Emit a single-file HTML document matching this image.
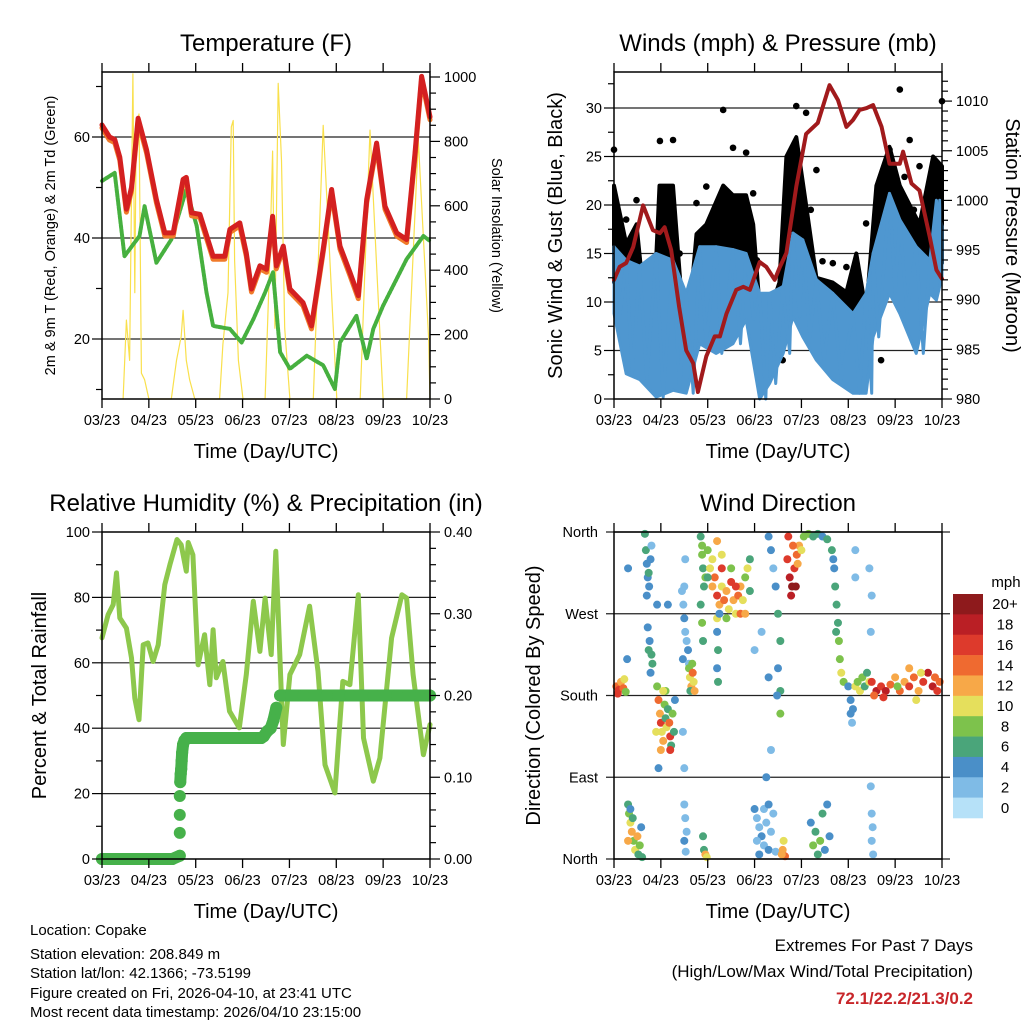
<!DOCTYPE html>
<html><head><meta charset="utf-8"><style>
html,body{margin:0;padding:0;background:#fff}
svg{display:block;font-family:"Liberation Sans",Arial,sans-serif}
</style></head><body>
<svg id="s" xmlns="http://www.w3.org/2000/svg" width="1024" height="1024" viewBox="0 0 1024 1024">
<rect x="0" y="0" width="1024" height="1024" fill="#fff"/>
<g id="g1"></g>
<g id="g2"></g>
<g id="g3"></g>
<g id="g4"></g>
<g font-size="15" fill="#000">
<text x="30" y="935">Location: Copake</text>
<text x="30" y="959">Station elevation: 208.849 m</text>
<text x="30" y="978">Station lat/lon: 42.1366; -73.5199</text>
<text x="30" y="998">Figure created on Fri, 2026-04-10, at 23:41 UTC</text>
<text x="30" y="1017">Most recent data timestamp: 2026/04/10 23:15:00</text>
</g>
<g text-anchor="end" font-size="17">
<text x="973" y="951">Extremes For Past 7 Days</text>
<text x="973" y="977">(High/Low/Max Wind/Total Precipitation)</text>
<text x="973" y="1004" fill="#c8262a" font-weight="bold">72.1/22.2/21.3/0.2</text>
</g>
</svg>
<script>
// ---------- data ----------
const dayLabels = ["03/23","04/23","05/23","06/23","07/23","08/23","09/23","10/23"];
const tempT = [0,0.16,0.27,0.38,0.52,0.63,0.77,0.95,1.16,1.34,1.52,1.73,1.8,1.91,2.09,2.37,2.62,2.73,2.94,3.08,3.19,3.37,3.51,3.64,3.72,3.87,4.01,4.29,4.47,4.72,4.9,5.08,5.29,5.47,5.65,5.86,6.04,6.29,6.5,6.68,6.82,7];
const tempV = [62.4,60,59.5,56,45.7,50,63.7,57.5,47.6,41,41,51.6,52,45,44.7,36.4,36.4,41.7,43,37,29.9,34.5,33.8,44.3,34.5,38.4,29.9,27.2,22.6,37.8,49.6,38.4,33.2,28.6,47.6,58.8,46.3,41,39.7,56.8,72,64];
const tdT = [0,0.27,0.48,0.8,0.91,1.16,1.48,1.8,2.02,2.23,2.37,2.73,2.98,3.23,3.48,3.65,3.8,4.01,4.37,4.72,4.97,5.08,5.43,5.65,5.79,6.0,6.5,6.86,7];
const tdV = [51.3,52.9,36.4,40.4,46.3,35.1,39.7,49.6,42.4,29.2,22.6,22,19.3,23.9,29.2,33.2,17.4,14.1,16.7,14.8,10.1,19.3,24.6,16.1,22,26.6,35.8,40.4,39.4];
const solT = [0.45,0.52,0.59,0.66,0.7,0.73,0.79,0.84,0.91,1.0,1.48,1.59,1.69,1.73,1.8,1.87,1.98,2.51,2.58,2.69,2.76,2.8,2.83,2.91,3.01,3.48,3.58,3.64,3.69,3.76,3.83,3.9,4.01,4.51,4.72,5.01,5.51,5.72,6.0,6.5,6.75,6.97,7];
const solV = [0,245,120,1010,330,840,885,80,60,0,0,120,195,275,120,60,0,0,170,330,845,865,430,120,0,0,430,770,220,980,740,220,0,0,850,0,0,835,0,0,805,190,0];
const presT = [0,0.12,0.26,0.41,0.62,0.83,0.98,1.08,1.22,1.39,1.54,1.69,1.79,1.97,2.15,2.26,2.4,2.61,2.76,2.9,3.11,3.25,3.43,3.54,3.68,3.89,4.1,4.35,4.6,4.78,4.96,5.1,5.24,5.39,5.53,5.71,5.88,6.1,6.17,6.35,6.52,6.74,6.88,7];
const presV = [992,993.3,993.7,995.3,999.5,997,996.7,997.3,995,989.3,984.9,983.6,980.7,984.3,986.3,986.3,988.6,991,991.3,991,993.8,993.3,992,993.3,994.7,1001.4,1006.7,1007.8,1011.6,1010.1,1007.4,1008.1,1009.1,1009.3,1009.6,1007.4,1003.7,1003.7,1004.9,1001.7,1001,996.3,993,992.1];
const windEnvT = [0,0.26,0.55,0.9,1.26,1.54,1.83,2.18,2.54,2.82,3.11,3.32,3.61,3.82,4.03,4.32,4.67,5.1,5.38,5.53,5.88,6.1,6.45,6.74,6.88,7];
const windHi = [15.7,14.3,13.7,15,14.3,10.9,15.7,15.7,15.4,15,10.9,10.9,11.6,17.1,16.4,12.3,10.9,8.8,10.9,15,21.2,18.5,15.7,14.3,20.5,17.8];
const windLo = [8.8,2.6,2,0.2,0.9,0.6,5.7,4.7,5.7,8.2,0,1.6,4.7,8.5,6.4,4,2,0.6,0.6,6.4,10.9,8.8,4.7,10.9,10.2,12.6];
const windT = [0,0.13,0.26,0.39,0.55,0.7,0.9,1.05,1.26,1.4,1.54,1.69,1.83,1.97,2.18,2.3,2.54,2.7,2.82,2.98,3.11,3.24,3.32,3.45,3.6,3.75,3.82,3.96,4.03,4.18,4.32,4.48,4.67,4.85,5.1,5.24,5.38,5.5,5.53,5.65,5.88,6.0,6.1,6.25,6.45,6.6,6.74,6.88,6.95,7];
const windV = [15.7,8.8,14.3,2.6,13.7,2,15,0.2,14.3,0.9,10.9,0.6,15.7,5.7,15.7,4.7,15.4,5.7,15,8.2,10.9,0,10.9,1.6,11.6,4.7,17.1,8.5,16.4,6.4,12.3,4,10.9,2,8.8,0.6,10.9,0.6,15,6.4,21.2,10.9,18.5,8.8,15.7,4.7,14.3,10.9,20.5,12.6];
const gustEnvT = [0,0.26,0.48,0.69,0.83,0.97,1.26,1.4,1.54,1.76,1.97,2.33,2.54,2.82,2.97,3.18,3.32,3.53,3.68,3.89,4.1,4.32,4.67,4.96,5.17,5.38,5.6,5.88,6.1,6.31,6.52,6.81,7];
const gustHi = [22,16,18,8,7,22,22,13,5,17,18,22,21,21,18,5,9,12,25,27,20,12.5,12,11,15,9,22,26,22,20,18,25,24];
const gustLo = [12,10,10,6,5,12,11,8,4,11,12,13,12,12,10,3,5,8,12,13,12,9,8,6,7,5,12,17,15,13,12,12,14];
const gustT = [0,0.1,0.26,0.35,0.48,0.6,0.7,0.8,0.98,1.05,1.26,1.3,1.4,1.54,1.76,1.8,1.97,2.05,2.33,2.4,2.54,2.62,2.82,2.9,2.97,3.05,3.18,3.3,3.54,3.6,3.68,3.7,3.89,3.95,4.1,4.2,4.32,4.45,4.67,4.75,4.96,5.05,5.17,5.3,5.38,5.45,5.6,5.7,5.88,5.95,6.1,6.2,6.31,6.4,6.52,6.6,6.81,6.9,7];
const gustV = [25.7,12.6,18.5,10.9,20.5,12.6,9.2,6.4,26.6,17.8,26.7,15,15,5.7,20.2,12.6,21.9,14.3,29.8,20.5,25.9,15.7,25.4,17.8,21.2,14.3,5.7,4,10.9,4,14.2,7,30.2,21.2,29.5,19.5,23.6,14.2,14,7.5,13.6,8.2,12.6,7.5,18.1,11,10.9,4,25.7,17.8,31.9,22.9,26.7,19.5,24,16.2,21.2,15,30.7];
const rhT = [0,0.13,0.24,0.31,0.38,0.52,0.63,0.7,0.79,0.88,0.98,1.09,1.2,1.34,1.45,1.6,1.69,1.8,1.84,1.94,2.05,2.19,2.3,2.37,2.44,2.58,2.72,2.93,3.08,3.23,3.37,3.48,3.61,3.71,3.87,4.01,4.22,4.43,4.61,4.76,4.97,5.14,5.29,5.47,5.58,5.79,5.93,6.18,6.4,6.5,6.64,6.86,7];
const rhV = [67.6,74.7,77.8,87.5,73.7,70.6,61.5,49.2,42.6,65.5,66.1,60.4,65.5,83.9,90,97.7,96.1,88,96.8,93,59.4,68.6,53.3,70.1,55.4,60.4,45.2,40.1,56.4,78.8,63.5,79.8,62.5,94.1,35,56.4,62.5,77.3,57.4,28.8,20.2,54.3,53.3,80.8,37,23.8,30.9,67.6,80.8,79.8,56.4,31.9,41.1];
const prT = [0,0.5,1.0,1.5,1.66,1.66,1.66,1.66,1.67,1.68,1.69,1.7,1.71,1.73,1.76,1.8,2.2,2.6,3.0,3.4,3.45,3.52,3.6,3.66,3.72,3.8,4.3,4.8,5.3,5.8,6.3,6.8,7];
const prV = [0,0,0,0,0.004,0.032,0.054,0.077,0.094,0.104,0.11,0.12,0.13,0.14,0.145,0.148,0.148,0.148,0.148,0.148,0.15,0.156,0.16,0.17,0.185,0.2,0.2,0.2,0.2,0.2,0.2,0.2,0.2];
const dirT = [0.05,0.1,0.15,0.2,0.22,0.08,0.25, 0.3,0.32,0.35,0.38,0.4,0.42,0.45,0.5,0.52,0.55,0.58,0.6,0.3,0.35, 0.66,0.68,0.7,0.72,0.75,0.78,0.8,0.7,0.74, 0.72,0.76,0.8,0.82,0.78,0.74, 0.3,0.28,1.15,0.92, 0.92,0.95,0.98,1.0,1.02,1.05,1.08,1.1,1.12,1.15,1.18,1.2,1.22,1.25,1.28,1.3,1.0,1.1,1.2,0.95,0.9,1.05, 1.45,1.48,1.5,1.52,1.55,1.58,1.5,1.47,1.6,1.52, 1.6,1.62,1.65,1.68,1.7,1.63,1.67,1.72, 1.5,1.52,1.55,1.5,1.53,1.47,1.5, 1.85,1.88,1.9,1.92,1.85,1.88,1.9,1.88,1.95, 2.0,2.05,2.1,2.15,2.2,2.25,2.3,2.35,2.4,2.45,2.5,2.55,2.6,2.65,2.7,2.75,2.8,2.85,2.9,2.1,2.2,2.3,2.5,2.7,2.6,2.4,2.2,2.0,2.9,2.8, 1.92,1.95,1.98,1.9, 2.2,2.22,2.2,2.22,2.25, 2.3,3.15,3.0, 3.0,3.05,3.1,3.15,3.2,3.25,3.3,3.35,3.4,3.05,3.2,3.1,3.3,3.45,3.25,3.35,3.3, 3.3,3.35,3.4,3.45,3.5,3.55,3.5,3.55,3.48,3.55, 3.7,3.75,3.8,3.85,3.9,3.95,4.0,3.78,3.82,3.88,3.92,3.72,4.05, 3.6,3.62,3.65,3.58, 4.15,4.25,4.35,4.45,4.55, 4.2,4.3,4.4,4.5,4.35,4.6,4.45,4.25,4.55, 4.65,4.7,4.72,4.75,4.78,4.8,4.82,4.85,4.9,4.68,4.74, 5.0,5.05,5.05,5.08,5.1, 5.15,5.2,5.25,5.3,5.35,5.4,5.45, 5.5,5.6,5.7,5.8,5.9,6.0,6.1,6.2,6.3,6.4,6.5,6.6,6.7,6.8,6.9,6.95,5.55,5.75,6.05,6.55,6.45,6.3,6.85, 5.5,5.52,5.5,5.53,5.48, 5.15,5.15,5.45,5.5,5.48];
const dirD = [190,186,195,188,198,182,184, 60,50,40,30,45,20,10,25,5,15,35,2,20,55, 358,340,325,310,300,330,345,290,315, 255,240,225,215,205,230, 320,220,280,280, 190,175,160,150,140,130,170,155,145,165,150,135,125,160,140,175,120,185,120,100,140,185, 295,280,265,250,240,230,300,220,215,330, 210,200,190,205,195,185,215,185, 60,45,30,20,8,140,100, 355,335,320,300,280,260,240,345,310, 340,320,300,310,290,280,300,285,295,275,305,285,270,290,300,285,310,320,330,330,350,320,320,270,300,265,265,310,295,270, 10,5,2,25, 250,230,210,195,270, 335,250,230, 55,45,35,25,15,40,10,30,50,20,55,5,60,8,90,120,200, 355,340,320,300,270,240,210,185,180,160, 330,310,300,320,335,345,340,290,345,300,325,355,355, 10,20,3,5, 358,355,358,355,352, 40,30,20,10,5,25,50,15,60, 340,320,300,280,260,240,220,205,195,330,250, 190,175,160,150,165, 190,195,185,200,190,205,195, 195,185,190,185,192,200,185,195,190,200,185,195,205,190,185,195,180,178,190,205,175,210,200, 50,35,20,5,80, 340,310,320,290,250];
const dirS = [14,16,12,14,10,16,8, 6,8,10,12,6,8,10,12,6,8,4,6,12,4, 6,6,4,4,4,4,2,4,6, 4,4,6,6,4,6, 4,4,4,4, 8,14,12,16,10,12,8,6,10,6,14,16,6,8,6,4,12,8,16,4,10,10, 2,2,4,2,2,4,2,4,2,2, 8,10,12,14,10,6,8,12, 2,2,2,4,2,2,2, 6,8,6,6,6,8,6,8,8, 8,10,12,14,16,12,10,14,12,10,16,12,10,14,12,10,8,10,6,10,12,16,8,14,16,8,10,6,6,12, 6,12,10,6, 4,6,4,6,4, 10,2,2, 4,2,2,4,2,2,4,2,2,2,2,4,4,2,4,2,4, 4,4,2,4,6,6,4,6,4,8, 16,18,20,16,14,12,10,18,14,20,12,16,8, 12,10,14,12, 8,6,6,4,6, 4,6,8,4,6,4,6,8,4, 6,4,6,6,6,8,8,10,8,4,6, 4,4,4,2,4, 10,8,10,8,6,6,10, 16,18,16,18,14,12,14,12,16,14,12,16,18,18,16,14,14,16,8,10,10,12,14, 2,2,2,2,2, 2,2,2,2,2];
const speedLabels = ["20+","18","16","14","12","10","8","6","4","2","0"];
const speedColors = ["#8e1a1c","#ba1f25","#dd3a2c","#ef6a30","#f7a848","#e5df5c","#7dc24c","#4aa57a","#4a8fc8","#7fbbe6","#b6e1f8"];

// ---------- helpers ----------
const NS="http://www.w3.org/2000/svg";
function el(parent,tag,attrs,text){const e=document.createElementNS(NS,tag);for(const k in attrs)e.setAttribute(k,attrs[k]);if(text!==undefined)e.textContent=text;parent.appendChild(e);return e;}
function axes(g,P,opts){
  const xs=t=>P.x0+(P.x1-P.x0)*t/7;
  const f=el(g,'rect',{x:P.x0,y:P.y0,width:P.x1-P.x0,height:P.y1-P.y0,fill:'none',stroke:'#000','stroke-width':1.5});
  
  
  dayLabels.forEach((d,i)=>{const x=xs(i);
    el(g,'line',{x1:x,x2:x,y1:P.y0,y2:P.y0-9,stroke:'#000','stroke-width':1.3});
    el(g,'line',{x1:x,x2:x,y1:P.y1,y2:P.y1+9,stroke:'#000','stroke-width':1.3});
    const t=el(g,'text',{x:x,y:P.y1+26,'text-anchor':'middle','font-size':14.5},d);
    
    });
  const xt=el(g,'text',{x:(P.x0+P.x1)/2,y:P.y1+59,'text-anchor':'middle','font-size':20},'Time (Day/UTC)');
  
  
  const tt=el(g,'text',{x:(P.x0+P.x1)/2,y:P.y0-21,'text-anchor':'middle','font-size':24},opts.title);
  
  
  if(opts.left){opts.left.ticks.forEach(v=>{const y=opts.left.s(v);const maj=opts.left.major(v);
    el(g,'line',{x1:P.x0,x2:P.x0-(maj?10:6),y1:y,y2:y,stroke:'#000','stroke-width':1.2});
    if(maj&&opts.left.lab){const t=el(g,'text',{x:P.x0-12,y:y+5,'text-anchor':'end','font-size':14.5},opts.left.lab(v));
      
      }});}
  if(opts.right){opts.right.ticks.forEach(v=>{const y=opts.right.s(v);const maj=opts.right.major(v);
    el(g,'line',{x1:P.x1,x2:P.x1+(maj?10:6),y1:y,y2:y,stroke:'#000','stroke-width':1.2});
    if(maj){const t=el(g,'text',{x:P.x1+14,y:y+5,'font-size':14.5},opts.right.lab(v));
      
      }});}
  if(opts.ltitle){const t=el(g,'text',{x:0,y:0,'text-anchor':'middle','font-size':opts.ltitle[2],transform:`translate(${opts.ltitle[1]},${(P.y0+P.y1)/2}) rotate(-90)`},opts.ltitle[0]);
    
    }
  if(opts.rtitle){const t=el(g,'text',{x:0,y:0,'text-anchor':'middle','font-size':opts.rtitle[2],transform:`translate(${opts.rtitle[1]},${(P.y0+P.y1)/2}) rotate(90)`},opts.rtitle[0]);
    
    }
}
function path(g,xs,ys,T,V,attrs,name){let d='';T.forEach((t,i)=>{d+=(i?'L':'M')+xs(t).toFixed(1)+','+ys(V[i]).toFixed(1);});
  const p=el(g,'path',Object.assign({d:d,fill:'none','stroke-linejoin':'round','stroke-linecap':'round'},attrs));
  
  return p;}
function band(g,xs,ys,T,H,L,attrs,name){let d='';T.forEach((t,i)=>{d+=(i?'L':'M')+xs(t).toFixed(1)+','+ys(H[i]).toFixed(1);});
  for(let i=T.length-1;i>=0;i--)d+='L'+xs(T[i]).toFixed(1)+','+ys(L[i]).toFixed(1);d+='Z';
  const p=el(g,'path',Object.assign({d:d,'stroke-linejoin':'round'},attrs));
  
  return p;}
function range(a,b,s){const r=[];for(let v=a;v<=b+1e-9;v+=s)r.push(+v.toFixed(4));return r;}

// ---------- panel 1 ----------
(function(){const g=document.getElementById('g1');const P={x0:102,x1:430,y0:72,y1:399};
  const xs=t=>P.x0+(P.x1-P.x0)*t/7;
  const yT=v=>339-(v-20)*5.05; const yS=v=>399-v*0.322;
  [20,40,60].forEach(v=>{const l=el(g,'line',{x1:P.x0,x2:P.x1,y1:yT(v),y2:yT(v),stroke:'#222','stroke-width':1.2});
    
    });
  path(g,xs,yS,solT,solV,{stroke:'#f9e04c','stroke-width':1.2},'solar-line');
  path(g,xs,yT,tdT,tdV,{stroke:'#46b03f','stroke-width':4,'stroke-dasharray':'3 1.5'},'dewpoint-line');
  path(g,xs,yT,tempT,tempV.map(v=>v-0.6),{stroke:'#f07a2a','stroke-width':5},'temp-9m-line');
  path(g,xs,yT,tempT,tempV,{stroke:'#d42020','stroke-width':5},'temp-2m-line');
  axes(g,P,{title:'Temperature (F)',
    left:{ticks:range(10,70,10),s:yT,major:v=>v%20===0,lab:v=>v},
    right:{ticks:range(0,1000,50),s:yS,major:v=>v%200===0,lab:v=>v},
    ltitle:['2m & 9m T (Red, Orange) & 2m Td (Green)',55,14.5],rtitle:['Solar Insolation (Yellow)',492,14.5]});
})();
// ---------- panel 2 ----------
(function(){const g=document.getElementById('g2');const P={x0:614,x1:942,y0:72,y1:399};
  const xs=t=>P.x0+(P.x1-P.x0)*t/7;
  const yW=v=>399-v*9.7; const yP=v=>399-(v-980)*9.93;
  [5,10,15,20,25,30].forEach(v=>{const l=el(g,'line',{x1:P.x0,x2:P.x1,y1:yW(v),y2:yW(v),stroke:'#222','stroke-width':1.2});
    
    });
  band(g,xs,yW,gustEnvT,gustHi,gustLo,{fill:'#000',stroke:'#000','stroke-width':4},'gust-band');
  gustT.forEach((t,i)=>{const c=el(g,'circle',{cx:xs(t),cy:yW(gustV[i]),r:3.3,fill:'#000'});
    
    });
  band(g,xs,yW,windEnvT,windHi,windLo,{fill:'#4f97d0',stroke:'#4f97d0','stroke-width':3},'wind-band');
  path(g,xs,yW,windT,windV,{stroke:'#4f97d0','stroke-width':3},'wind-line');
  path(g,xs,yP,presT,presV,{stroke:'#a11a1c','stroke-width':4},'pressure-line');
  axes(g,P,{title:'Winds (mph) & Pressure (mb)',
    left:{ticks:range(0,32.5,2.5),s:yW,major:v=>v%5===0,lab:v=>v},
    right:{ticks:range(980,1012,1),s:yP,major:v=>v%5===0,lab:v=>v},
    ltitle:['Sonic Wind & Gust (Blue, Black)',562,20],rtitle:['Station Pressure (Maroon)',1006,20]});
})();
// ---------- panel 3 ----------
(function(){const g=document.getElementById('g3');const P={x0:102,x1:430,y0:532,y1:859};
  const xs=t=>P.x0+(P.x1-P.x0)*t/7;
  const yR=v=>859-v*3.27; const yPr=v=>859-v*817.5;
  [20,40,60,80].forEach(v=>{const l=el(g,'line',{x1:P.x0,x2:P.x1,y1:yR(v),y2:yR(v),stroke:'#222','stroke-width':1.2});
    
    });
  path(g,xs,yR,rhT,rhV,{stroke:'#8dc84c','stroke-width':5},'humidity-line');
  for(let i=1;i<prT.length;i++){ if(prV[i]-prV[i-1]>0.015) continue;
    const l=el(g,'line',{x1:xs(prT[i-1]),y1:yPr(prV[i-1]),x2:xs(prT[i]),y2:yPr(prV[i]),stroke:'#46b14a','stroke-width':12,'stroke-linecap':'round'});
    
    }
  prT.forEach((t,i)=>{const c=el(g,'circle',{cx:xs(t),cy:yPr(prV[i]),r:6,fill:'#46b14a'});
    
    });
  axes(g,P,{title:'Relative Humidity (%) & Precipitation (in)',
    left:{ticks:range(0,100,10),s:yR,major:v=>v%20===0,lab:v=>v},
    right:{ticks:range(0,0.4,0.02),s:yPr,major:v=>Math.abs(v*10-Math.round(v*10))<1e-6,lab:v=>v.toFixed(2)},
    ltitle:['Percent & Total Rainfall',46,20]});
})();
// ---------- panel 4 ----------
(function(){const g=document.getElementById('g4');const P={x0:614,x1:942,y0:532,y1:859};
  const xs=t=>P.x0+(P.x1-P.x0)*t/7;
  const yD=v=>859-v*(859-532)/360;
  const dirLabels=[[360,'North'],[270,'West'],[180,'South'],[90,'East'],[0,'North']];
  dirLabels.forEach(([v])=>{const l=el(g,'line',{x1:P.x0-8,x2:P.x1+8,y1:yD(v),y2:yD(v),stroke:'#222','stroke-width':1.2});
    
    });
  dirT.forEach((t,i)=>{const k=Math.min(10,Math.max(0,10-Math.round(dirS[i]/2)));
    const c=el(g,'circle',{cx:xs(t),cy:yD(dirD[i]),r:4,fill:speedColors[k]});
    
    });
  axes(g,P,{title:'Wind Direction',ltitle:['Direction (Colored By Speed)',540,20]});
  dirLabels.forEach(([v,n])=>{const t=el(g,'text',{x:P.x0-16,y:yD(v)+5,'text-anchor':'end','font-size':14.5},n);
    
    });
  const cb=el(g,'g',{});
  
  
  const h=(818-594)/11;
  speedLabels.forEach((lab,i)=>{const r=el(cb,'rect',{x:953,y:594+i*h,width:30,height:h+0.3,fill:speedColors[i]});
    
    
    const t=el(cb,'text',{x:1005,y:594+i*h+h/2+5,'text-anchor':'middle','font-size':15},lab);
    
    });
  const m=el(cb,'text',{x:1006,y:587,'text-anchor':'middle','font-size':15},'mph');
  
  
})();
</script>
</body></html>
